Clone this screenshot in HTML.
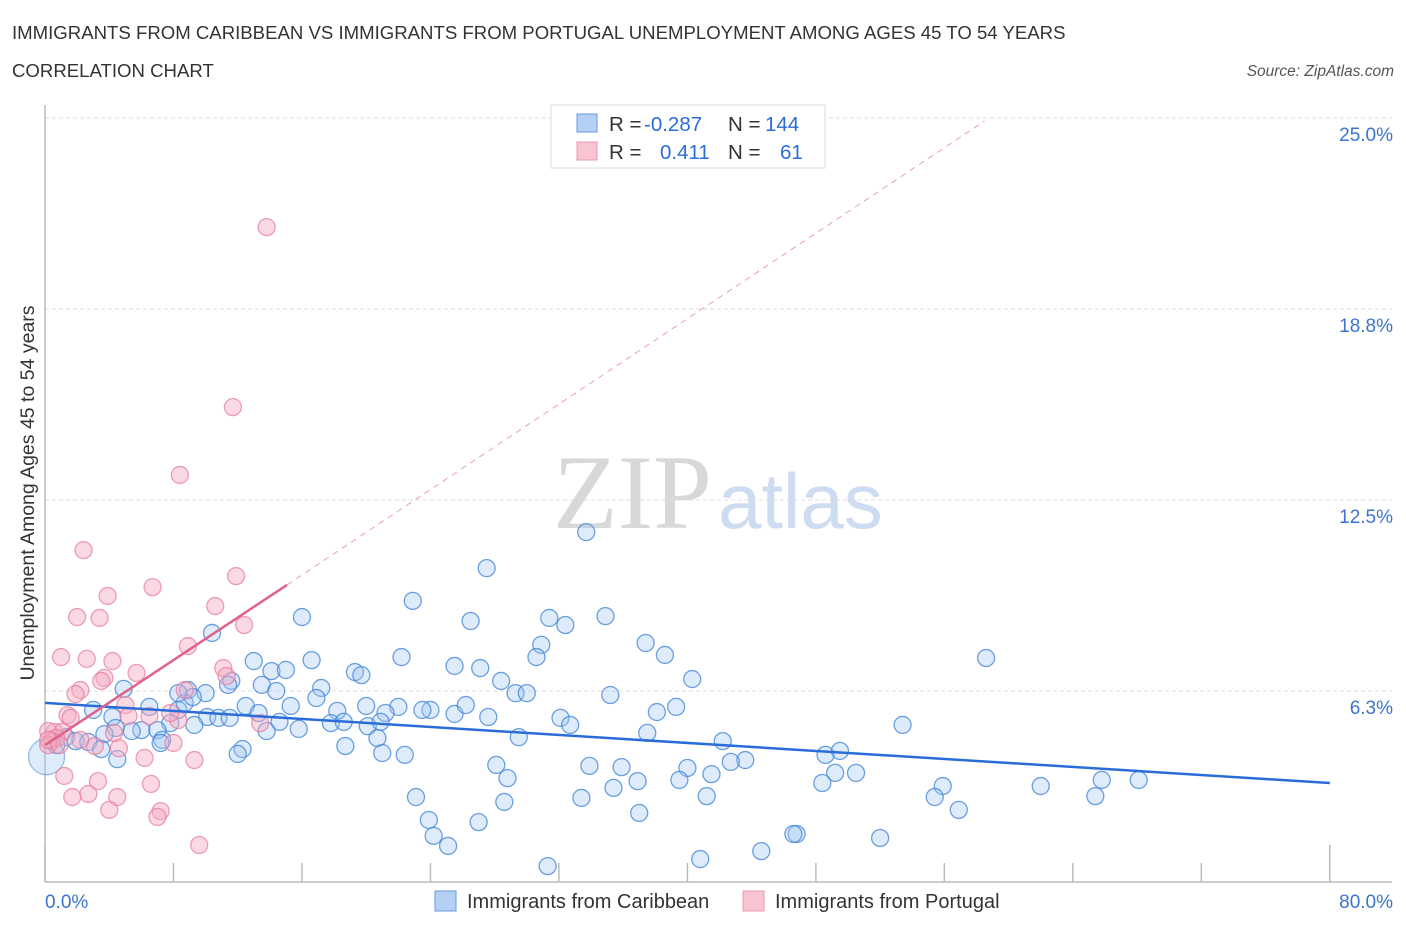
<!DOCTYPE html>
<html><head><meta charset="utf-8"><style>
body{margin:0;background:#fff;font-family:"Liberation Sans",sans-serif;}
svg{display:block}
</style></head><body>
<svg width="1406" height="930" viewBox="0 0 1406 930">
<text x="12" y="39" font-size="18.6" fill="#333">IMMIGRANTS FROM CARIBBEAN VS IMMIGRANTS FROM PORTUGAL UNEMPLOYMENT AMONG AGES 45 TO 54 YEARS</text>
<text x="12" y="77" font-size="18.6" fill="#333">CORRELATION CHART</text>
<text x="1394" y="76" font-size="15.5" fill="#555" font-style="italic" text-anchor="end">Source: ZipAtlas.com</text>
<g>
<text x="553" y="528" font-size="106" font-family="Liberation Serif,serif" fill="#d8d8d8">ZIP</text>
<text x="718" y="528" font-size="78" fill="#cddcf0">atlas</text>
</g>
<g id="grid"></g>
<g id="axes"></g>
<g id="pts"></g>
<g id="trend"></g>
<text transform="translate(34,493) rotate(-90)" font-size="19.5" fill="#333" text-anchor="middle">Unemployment Among Ages 45 to 54 years</text>
<text x="45" y="908" font-size="19" fill="#3a74d0">0.0%</text>
<text x="1393" y="908" font-size="19" fill="#3a74d0" text-anchor="end">80.0%</text>
<g>
<rect x="551" y="105" width="274" height="63" fill="#fff" stroke="#ddd"/>
<rect x="577" y="114" width="20" height="18" fill="#b4d0f4" stroke="#6a9ae0"/>
<rect x="577" y="142" width="20" height="18" fill="#f8c4d2" stroke="#ea9ab0"/>
<text x="609" y="131" font-size="20.5" fill="#333">R = <tspan fill="#2a6dd9" x="644">-0.287</tspan></text>
<text x="728" y="131" font-size="20.5" fill="#333">N = <tspan fill="#2a6dd9" x="765">144</tspan></text>
<text x="609" y="159" font-size="20.5" fill="#333">R = <tspan fill="#2a6dd9" x="660">0.411</tspan></text>
<text x="728" y="159" font-size="20.5" fill="#333">N = <tspan fill="#2a6dd9" x="780">61</tspan></text>
</g>
<g>
<rect x="435" y="891" width="21" height="20" fill="#b4d0f4" stroke="#6a9ae0"/>
<text x="467" y="908" font-size="20" fill="#333">Immigrants from Caribbean</text>
<rect x="743" y="891" width="21" height="20" fill="#f8c4d2" stroke="#ea9ab0"/>
<text x="775" y="908" font-size="20" fill="#333">Immigrants from Portugal</text>
</g>
</svg>
<script>
const yTicks=[6.3,12.5,18.8,25.0];
const yTickLabels=["6.3%","12.5%","18.8%","25.0%"];
const xTicks=[0,8,16,24,32,40,48,56,64,72,80];
const blueX=[33.7,27.5,22.9,16.0,31.4,32.4,34.9,26.5,10.4,30.9,37.4,30.6,38.6,22.2,16.6,13.0,25.5,27.1,19.3,19.7,14.1,15.0,58.6,11.6,13.5,28.4,40.3,17.2,14.4,29.3,30.0,35.2,4.9,8.9,10.0,11.4,16.9,20.0,22.0,21.2,24.0,23.5,25.5,26.2,18.2,12.5,15.3,39.3,38.1,6.5,3.0,4.2,8.3,10.1,10.8,11.5,27.6,32.1,32.7,53.4,14.6,15.8,13.3,17.8,18.6,20.1,20.9,7.8,9.3,6.0,7.0,7.3,4.4,3.7,1.3,1.9,0.7,2.7,3.5,5.4,37.5,13.8,8.7,9.2,8.3,20.7,29.5,18.7,12.3,12.0,22.4,21.0,42.2,48.6,49.5,43.6,42.7,33.9,35.9,40.0,28.1,28.8,41.5,39.5,36.9,49.2,50.5,48.4,55.9,65.8,68.1,62.0,65.4,55.4,56.9,23.1,33.4,35.4,41.2,28.6,37.0,23.9,27.0,24.2,25.1,46.8,46.6,52.0,44.6,40.8,31.3,4.5,7.2];
const blueY=[11.45,10.27,9.2,8.67,8.64,8.41,8.7,8.54,8.15,7.76,7.82,7.36,7.43,7.36,7.26,7.23,7.07,7.0,6.87,6.77,6.9,6.94,7.33,6.58,6.45,6.58,6.64,6.35,6.25,6.18,6.18,6.12,6.32,6.28,6.18,6.45,6.02,5.76,5.73,5.53,5.63,5.63,5.5,5.79,5.6,5.76,5.76,5.73,5.56,5.73,5.63,5.4,5.63,5.4,5.37,5.37,5.4,5.37,5.14,5.14,5.24,5.01,5.53,5.2,5.24,5.1,5.24,5.2,5.14,4.97,4.97,4.65,5.04,4.84,4.74,4.61,4.48,4.58,4.35,4.94,4.88,4.94,5.86,6.05,6.18,4.71,4.74,4.45,4.35,4.19,4.16,4.22,4.61,4.16,4.29,3.99,3.93,3.8,3.76,3.73,3.83,3.4,3.53,3.34,3.3,3.57,3.57,3.24,3.14,3.34,3.34,3.14,2.81,2.78,2.36,2.78,2.75,3.08,2.81,2.62,2.26,2.03,1.96,1.51,1.18,1.57,1.57,1.44,1.01,0.75,0.52,4.02,4.55];
const bigX=[0.1], bigY=[4.1];
const pinkX=[13.8,11.7,8.4,2.4,11.9,6.7,3.9,10.6,2.0,3.4,12.4,8.9,1.0,2.6,4.2,11.1,5.7,11.3,3.7,3.5,2.2,1.9,8.7,5.0,1.4,1.6,5.2,8.3,7.8,13.4,0.6,1.1,0.2,0.7,0.4,0.2,3.1,4.6,8.0,9.3,6.2,1.2,3.3,6.6,2.7,4.5,1.7,7.2,7.0,4.0,9.6,0.2,0.9,6.5,2.2,4.3];
const pinkY=[21.43,15.54,13.32,10.86,10.01,9.65,9.36,9.03,8.67,8.64,8.41,7.72,7.36,7.3,7.23,7.0,6.84,6.74,6.68,6.58,6.28,6.15,6.28,5.79,5.46,5.37,5.43,5.3,5.53,5.2,4.91,4.91,4.94,4.71,4.61,4.48,4.45,4.38,4.55,3.99,4.06,3.47,3.3,3.21,2.88,2.78,2.78,2.32,2.13,2.36,1.21,4.65,4.48,5.43,4.65,4.88];
const blueTrendX=[0,80], blueTrendY=[5.86,3.24];
const pinkTrendX=[0,15.07], pinkTrendY=[4.48,9.72];
const pinkDashX=[15.07,58.5], pinkDashY=[9.72,24.9];

const NS="http://www.w3.org/2000/svg";
const X=v=>45+v*16.06;
const Y=v=>882-v*30.56;
function mk(tag,attrs,parent){const e=document.createElementNS(NS,tag);for(const k in attrs)e.setAttribute(k,attrs[k]);parent.appendChild(e);return e;}
const grid=document.getElementById('grid'),axes=document.getElementById('axes'),pts=document.getElementById('pts'),trend=document.getElementById('trend');
const svg=document.querySelector('svg');
yTicks.forEach((t,i)=>{
 const yy=Y(t===6.3?6.25:t===18.8?18.75:t);
 const l=mk('line',{x1:45,x2:1392,y1:yy,y2:yy,stroke:'#ddd','stroke-dasharray':'4,3'},grid);
 
 
 const tx=mk('text',{x:1393,y:yy+23,'font-size':19,fill:'#3a74d0','text-anchor':'end'},svg);
 tx.textContent=yTickLabels[i];
 
 
});
const ax=mk('line',{x1:45,x2:1392,y1:882,y2:882,stroke:'#bbb','stroke-width':1.5},axes);


const ay=mk('line',{x1:45,x2:45,y1:105,y2:882,stroke:'#bbb','stroke-width':1.5},axes);


xTicks.forEach((t,i)=>{
 const big=(i===0||i===xTicks.length-1);
 const tk=mk('line',{x1:X(t),x2:X(t),y1:big?845:863,y2:882,stroke:'#bbb','stroke-width':1.5},axes);
 
 
});
blueX.forEach((v,i)=>{
 const c=mk('circle',{cx:X(v),cy:Y(blueY[i]),r:8.5,fill:'rgba(160,198,242,0.35)',stroke:'rgba(60,130,215,0.75)','stroke-width':1.3},pts);
 
 
});
bigX.forEach((v,i)=>{
 const c=mk('circle',{cx:X(v),cy:Y(bigY[i]),r:18,fill:'rgba(160,198,242,0.35)',stroke:'rgba(60,130,215,0.5)','stroke-width':1.3},pts);
 
 
});
pinkX.forEach((v,i)=>{
 const c=mk('circle',{cx:X(v),cy:Y(pinkY[i]),r:8.5,fill:'rgba(245,170,192,0.45)',stroke:'rgba(230,120,155,0.7)','stroke-width':1.3},pts);
 
 
});
const bt=mk('line',{x1:X(blueTrendX[0]),y1:Y(blueTrendY[0]),x2:X(blueTrendX[1]),y2:Y(blueTrendY[1]),stroke:'#2a6dd9','stroke-width':2.5},trend);


const pt=mk('line',{x1:X(pinkTrendX[0]),y1:Y(pinkTrendY[0]),x2:X(pinkTrendX[1]),y2:Y(pinkTrendY[1]),stroke:'#e0628a','stroke-width':2.5},trend);


const pd=mk('line',{x1:X(pinkDashX[0]),y1:Y(pinkDashY[0]),x2:X(pinkDashX[1]),y2:Y(pinkDashY[1]),stroke:'#e8a0b8','stroke-width':1,'stroke-dasharray':'6,5'},trend);


</script>
</body></html>
